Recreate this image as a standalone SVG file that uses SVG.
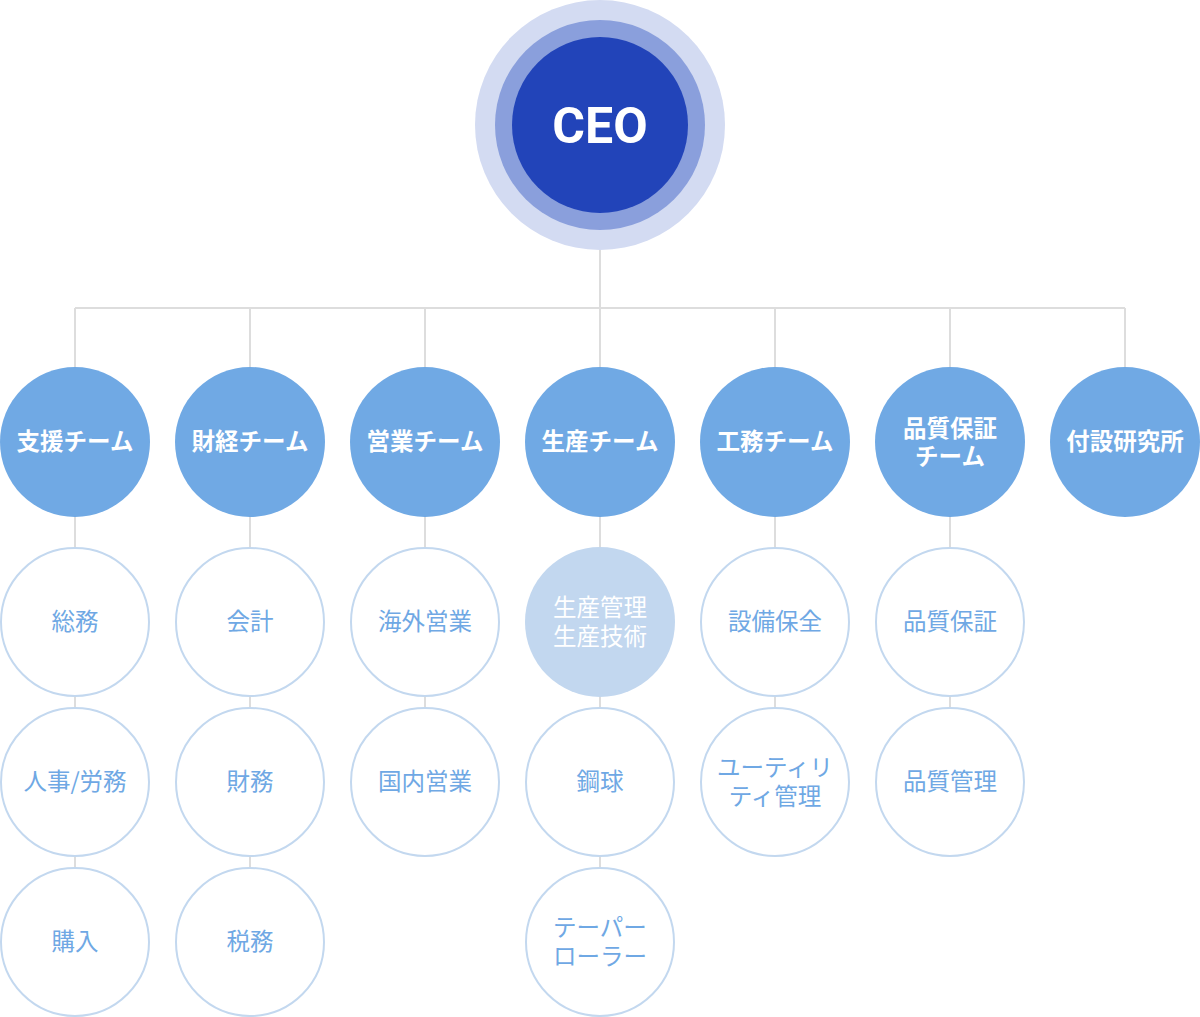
<svg xmlns="http://www.w3.org/2000/svg" width="1200" height="1017" viewBox="0 0 1200 1017">
<style>
.ln{stroke:#dddddd;stroke-width:2;fill:none}
.team{fill:#70a9e4}
.sub{fill:#ffffff;stroke:#c3d8ef;stroke-width:2}
.subf{fill:#c2d7ef}
.tt{font-family:"Noto Sans CJK JP","Noto Sans",sans-serif;font-size:23.5px;font-weight:700;fill:#ffffff;text-anchor:middle}
.st{font-family:"Noto Sans CJK JP","Noto Sans",sans-serif;font-size:23.5px;fill:#6fa8e4;text-anchor:middle}
.sw{font-family:"Noto Sans CJK JP","Noto Sans",sans-serif;font-size:23.5px;fill:#ffffff;text-anchor:middle}
</style>
<rect width="1200" height="1017" fill="#ffffff"/>
<g id="connectors">
<path class="ln" d="M600 250V308M75 308H1125M75 308V367M250 308V367M425 308V367M600 308V367M775 308V367M950 308V367M1125 308V367"/>
<path class="ln" d="M75 517V548M75 696V708M75 856V868"/>
<path class="ln" d="M250 517V548M250 696V708M250 856V868"/>
<path class="ln" d="M425 517V548M425 696V708"/>
<path class="ln" d="M600 517V548M600 696V708M600 856V868"/>
<path class="ln" d="M775 517V548M775 696V708"/>
<path class="ln" d="M950 517V548M950 696V708"/>
</g>
<g id="ceo">
<circle cx="600" cy="125" r="125" fill="#d3dbf2"/>
<circle cx="600" cy="125" r="105" fill="#8a9fdc"/>
<circle cx="600" cy="125" r="88" fill="#2244b9"/>
<text x="600" y="143" font-family="Roboto,'Liberation Sans',sans-serif" font-size="50" font-weight="700" fill="#ffffff" text-anchor="middle">CEO</text>
</g>
<g id="team1"><circle class="team" cx="75" cy="442" r="75"/><text class="tt" x="75" y="450">支援チーム</text></g>
<g id="team2"><circle class="team" cx="250" cy="442" r="75"/><text class="tt" x="250" y="450">財経チーム</text></g>
<g id="team3"><circle class="team" cx="425" cy="442" r="75"/><text class="tt" x="425" y="450">営業チーム</text></g>
<g id="team4"><circle class="team" cx="600" cy="442" r="75"/><text class="tt" x="600" y="450">生産チーム</text></g>
<g id="team5"><circle class="team" cx="775" cy="442" r="75"/><text class="tt" x="775" y="450">工務チーム</text></g>
<g id="team6"><circle class="team" cx="950" cy="442" r="75"/><text class="tt" x="950" y="437">品質保証</text><text class="tt" x="950" y="465">チーム</text></g>
<g id="team7"><circle class="team" cx="1125" cy="442" r="75"/><text class="tt" x="1125" y="450">付設研究所</text></g>

<g id="s1a"><circle class="sub" cx="75" cy="622" r="74"/><text class="st" x="75" y="630">総務</text></g>
<g id="s1b"><circle class="sub" cx="75" cy="782" r="74"/><text class="st" x="75" y="790">人事/労務</text></g>
<g id="s1c"><circle class="sub" cx="75" cy="942" r="74"/><text class="st" x="75" y="950">購入</text></g>
<g id="s2a"><circle class="sub" cx="250" cy="622" r="74"/><text class="st" x="250" y="630">会計</text></g>
<g id="s2b"><circle class="sub" cx="250" cy="782" r="74"/><text class="st" x="250" y="790">財務</text></g>
<g id="s2c"><circle class="sub" cx="250" cy="942" r="74"/><text class="st" x="250" y="950">税務</text></g>
<g id="s3a"><circle class="sub" cx="425" cy="622" r="74"/><text class="st" x="425" y="630">海外営業</text></g>
<g id="s3b"><circle class="sub" cx="425" cy="782" r="74"/><text class="st" x="425" y="790">国内営業</text></g>
<g id="s4a"><circle class="subf" cx="600" cy="622" r="75"/><text class="sw" x="600" y="616">生産管理</text><text class="sw" x="600" y="645">生産技術</text></g>
<g id="s4b"><circle class="sub" cx="600" cy="782" r="74"/><text class="st" x="600" y="790">鋼球</text></g>
<g id="s4c"><circle class="sub" cx="600" cy="942" r="74"/><text class="st" x="600" y="936">テーパー</text><text class="st" x="600" y="965">ローラー</text></g>
<g id="s5a"><circle class="sub" cx="775" cy="622" r="74"/><text class="st" x="775" y="630">設備保全</text></g>
<g id="s5b"><circle class="sub" cx="775" cy="782" r="74"/><text class="st" x="775" y="776">ユーティリ</text><text class="st" x="775" y="805">ティ管理</text></g>
<g id="s6a"><circle class="sub" cx="950" cy="622" r="74"/><text class="st" x="950" y="630">品質保証</text></g>
<g id="s6b"><circle class="sub" cx="950" cy="782" r="74"/><text class="st" x="950" y="790">品質管理</text></g>
</svg>
